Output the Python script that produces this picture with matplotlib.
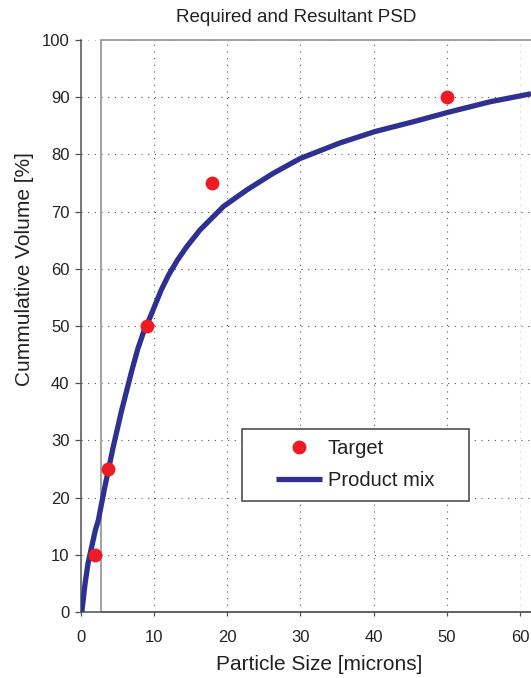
import matplotlib
matplotlib.use("Agg")
import matplotlib.pyplot as plt
from matplotlib.patches import Rectangle

plt.rcParams['font.family'] = ['Liberation Sans', 'DejaVu Sans']

# Data
target_x = [2, 3.7, 9, 18, 50]
target_y = [10, 25, 50, 75, 90]

mix_x = [0.15, 0.6, 1.0, 1.5, 2.0, 2.4, 3.3, 4.45, 5.6, 7.0, 7.8, 8.6, 9.5, 10.2,
         11.0, 12.0, 13.2, 14.5, 16.3, 19.5, 22.7, 26.3, 30, 35.4, 40.2, 45.4,
         50, 55.9, 61.5]
mix_y = [0, 5, 8.5, 11.4, 14.3, 16, 21.9, 28.9, 35.3, 42.3, 46.0, 49.0, 51.6, 53.8,
         56.3, 58.9, 61.5, 63.9, 66.8, 70.9, 73.8, 76.7, 79.3, 82.0, 84.0, 85.7,
         87.3, 89.2, 90.6]

xticks = [0, 10, 20, 30, 40, 50, 60]
yticks = [0, 10, 20, 30, 40, 50, 60, 70, 80, 90, 100]
box_left = 2.8

W, H = 531, 678
fig = plt.figure(figsize=(W / 100, H / 100), dpi=100)
ax = fig.add_axes([80.7 / W, 1 - 612 / H, (531 - 80.7) / W, (612 - 40) / H])

ax.set_xlim(0, 61.5)
ax.set_ylim(0, 100)
ax.set_xticks(xticks)
ax.set_yticks(yticks)

# grid
for xv in xticks[1:]:
    col = '#c8c8c8' if xv == 60 else '#555555'
    ax.axvline(xv, color=col, lw=0.8, dashes=(1, 5), zorder=0.5)
for yv in yticks[1:]:
    col = '#bbbbbb' if yv == 100 else '#555555'
    ax.axhline(yv, color=col, lw=0.8, dashes=(1, 5), zorder=0.5)

# grey frame box
ax.add_patch(Rectangle((box_left, 0), 200, 100, fill=False, edgecolor='#9a9a9a',
                       lw=1.3, zorder=1, clip_on=False))

ax.plot(mix_x, mix_y, color='#2E3192', lw=3.8, solid_capstyle='butt',
        solid_joinstyle='round', label='Product mix', zorder=3)
ax.plot(target_x, target_y, 'o', color='#ED1C24', ms=10, mec='none',
        label='Target', zorder=4, clip_on=False)

for s in ['top', 'right']:
    ax.spines[s].set_visible(False)
for s in ['left', 'bottom']:
    ax.spines[s].set_color('#505050')
    ax.spines[s].set_linewidth(1.1)

ax.tick_params(axis='y', direction='out', length=4, width=0.9, color='#505050',
               labelsize=12, pad=4, labelcolor='#222222')
ax.tick_params(axis='x', direction='out', length=3, width=0.9, color='#505050',
               labelsize=12, pad=10, labelcolor='#222222')

fig.text(296 / W, 1 - 17 / H, 'Required and Resultant PSD', ha='center', va='center',
         fontsize=13.5, color='#222222')
fig.text(319 / W, 1 - 664 / H, 'Particle Size [microns]', ha='center', va='center',
         fontsize=15, color='#222222')
fig.text(25 / W, 1 - 269 / H, 'Cummulative Volume [%]', ha='center', va='center',
         rotation=90, fontsize=15, color='#222222')

# legend frame
ax.add_patch(Rectangle((241.7 / W, 1 - 501 / H), 227.3 / W, 72 / H,
                       transform=fig.transFigure, fill=True, facecolor='white',
                       edgecolor='#404040', lw=1.1, zorder=5, clip_on=False))

handles, labels = ax.get_legend_handles_labels()
order = [1, 0]
leg = ax.legend([handles[i] for i in order], [labels[i] for i in order],
                loc='center', bbox_to_anchor=(355.4 / W, 1 - 464.5 / H),
                bbox_transform=fig.transFigure, frameon=False, numpoints=1,
                fontsize=14.5, handlelength=2.25, handletextpad=0.3,
                labelspacing=0.68)
for t in leg.get_texts():
    t.set_color('#222222')
leg.set_zorder(6)

fig.savefig('out.png', dpi=100)
